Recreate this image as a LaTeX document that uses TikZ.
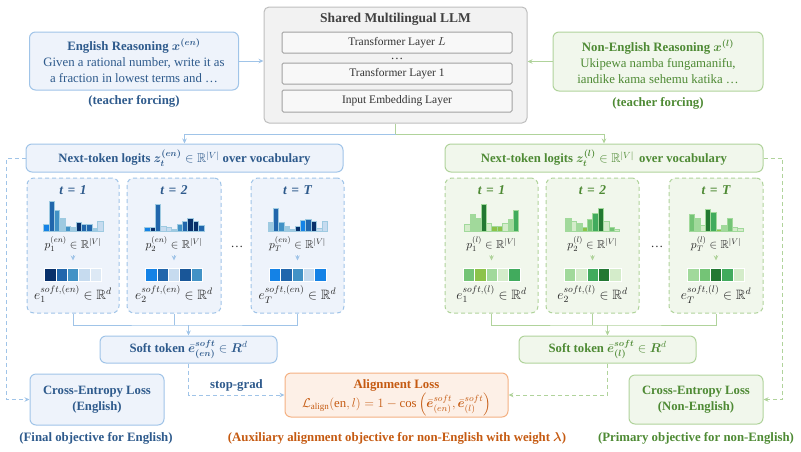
\RequirePackage{fix-cm}
\documentclass[tikz,border=0pt]{standalone}
\usepackage{amsmath}
\usepackage{amssymb}
\usepackage{bm}
\usepackage{fontspec}
\setmainfont{Liberation Serif}
\usetikzlibrary{arrows.meta}

\definecolor{enText}{RGB}{46,90,140}
\definecolor{enFill}{RGB}{238,243,251}
\definecolor{enEdge}{RGB}{160,196,232}
\definecolor{nlText}{RGB}{78,138,52}
\definecolor{nlFill}{RGB}{241,247,236}
\definecolor{nlEdge}{RGB}{176,211,155}
\definecolor{llmFill}{RGB}{242,242,242}
\definecolor{llmEdge}{RGB}{190,190,190}
\definecolor{alText}{RGB}{197,90,17}
\definecolor{alFill}{RGB}{253,240,231}
\definecolor{alEdge}{RGB}{244,177,131}
\definecolor{bNavy}{RGB}{8,48,107}
\definecolor{bDark}{RGB}{33,102,172}
\definecolor{bMed}{RGB}{66,146,198}
\definecolor{bLight}{RGB}{158,202,225}
\definecolor{bPale}{RGB}{198,219,239}
\definecolor{bBright}{RGB}{20,130,230}
\definecolor{gDark}{RGB}{35,120,50}
\definecolor{gMed}{RGB}{65,171,93}
\definecolor{gLight}{RGB}{116,196,118}
\definecolor{gSoft}{RGB}{161,217,155}
\definecolor{gPale}{RGB}{212,236,202}
\definecolor{gLime}{RGB}{140,195,74}

\newcommand{\histo}[3]{\foreach \h/\c [count=\i] in {#3} \filldraw[fill=\c, draw=#2, line width=0.3pt] ({#1+(\i-1)*5.4},231) rectangle ++(5.4,-\h);}
\newcommand{\cells}[2]{\foreach \c [count=\i] in {#2} \filldraw[fill=\c, draw=white, line width=0.5pt] ({#1+(\i-1)*11.4},268) rectangle ++(11.4,13);}

\begin{document}
\begin{tikzpicture}[x=1pt, y=-1pt, line width=1pt,
  base/.style={font=\fontsize{12.8}{16}\selectfont, inner sep=0pt, align=center},
  enBox/.style={base, draw=enEdge, fill=enFill, rounded corners=6pt, text=enText},
  nlBox/.style={base, draw=nlEdge, fill=nlFill, rounded corners=6pt, text=nlText},
  enStep/.style={draw=enEdge, fill=enFill, rounded corners=7pt, dash pattern=on 4pt off 3pt},
  nlStep/.style={draw=nlEdge, fill=nlFill, rounded corners=7pt, dash pattern=on 4pt off 3pt},
  layer/.style={base, font=\fontsize{11.5}{13}\selectfont, draw=llmEdge!85!black, fill=llmFill!50!white, rounded corners=1.5pt, minimum width=230pt, minimum height=21pt, text=black!80},
  tLab/.style={base, font=\fontsize{13.5}{15}\selectfont\bfseries\itshape},
  pLab/.style={base, font=\fontsize{11.5}{13}\selectfont, text=black!85},
  eLab/.style={base, font=\fontsize{13.5}{15}\selectfont, text=black!85},
  enArrow/.style={draw=enEdge, -{Stealth[length=5pt,width=4.5pt]}},
  nlArrow/.style={draw=nlEdge, -{Stealth[length=5pt,width=4.5pt]}},
  enDash/.style={enArrow, dash pattern=on 4pt off 3pt},
  nlDash/.style={nlArrow, dash pattern=on 4pt off 3pt},
  bold/.style={font=\fontsize{12.7}{16}\selectfont\bfseries},
  caption/.style={base, font=\fontsize{12.8}{15}\selectfont\bfseries}]

\useasboundingbox (0,0) rectangle (801,451);

\node (en) [enBox, minimum width=209pt, minimum height=58pt] at (134,61) {{\bfseries English Reasoning $\bm{x^{(en)}}$}\\Given a rational number, write it as\\a fraction in lowest terms and \dots};
\node (enTf) [caption, text=enText] at (134,101) {(teacher forcing)};
\node (nl) [nlBox, minimum width=210pt, minimum height=59pt] at (658,61.5) {{\bfseries Non-English Reasoning $\bm{x^{(l)}}$}\\Ukipewa namba fungamanifu,\\iandike kama sehemu katika \dots};
\node (nlTf) [caption, text=nlText] at (658,103) {(teacher forcing)};

\node (llm) [draw=llmEdge, fill=llmFill, rounded corners=5pt, minimum width=263pt, minimum height=116pt] at (395.5,65) {};
\node (llmT) [base, font=\fontsize{13.5}{16}\selectfont\bfseries, text=black!75] at (395.5,19) {Shared Multilingual LLM};
\node (layL) [layer] at (397,42.5) {Transformer Layer $L$};
\node (layDots) [base, text=black!80] at (397,58.5) {\dots};
\node (lay1) [layer] at (397,73.5) {Transformer Layer 1};
\node (layE) [layer, minimum height=22pt] at (397,101) {Input Embedding Layer};

\draw[enArrow] (en.east) -- (en.east -| llm.west);
\draw[nlArrow] (nl.west) -- (nl.west -| llm.east);

\node (enLog) [enBox, bold, minimum width=317pt, minimum height=28pt] at (184.5,158) {Next-token logits $\bm{z_t^{(en)}}\in\mathbb{R}^{|V|}$ over vocabulary};
\node (nlLog) [nlBox, bold, minimum width=318pt, minimum height=28pt] at (604,158) {Next-token logits $\bm{z_t^{(l)}}\in\mathbb{R}^{|V|}$\, over vocabulary};

\coordinate (split) at (395.5,134);
\draw[nlEdge] (llm.south) -- (split);
\draw[enArrow] (split) -| (enLog.north);
\draw[nlArrow] (split) -| (nlLog.north);

\foreach \k/\cx/\w in {1/73/92, 2/174/94, T/297.5/93} {
  \node (en\k) [enStep, minimum width=\w pt, minimum height=135pt] at (\cx,245.5) {};
  \node (tEn\k) [tLab, text=enText] at (\cx,190) {t\hspace{4.5pt}=\hspace{4.5pt}\k};
  \node (pEn\k) [pLab] at (\cx,244) {$p_{\k}^{(en)}\in\mathbb{R}^{|V|}$};
  \node (cEn\k) [minimum width=57pt, minimum height=13pt, inner sep=0pt] at (\cx,274.5) {};
  \node (eEn\k) [eLab] at (\cx,294) {$e_{\k}^{soft,(en)}\in\mathbb{R}^d$};
  \draw[enArrow, shorten <=3pt, shorten >=7pt] (pEn\k) -- (cEn\k);
}
\foreach \k/\cx/\w in {1/491.5/93, 2/592.5/93, T/716/94} {
  \node (nl\k) [nlStep, minimum width=\w pt, minimum height=135pt] at (\cx,245.5) {};
  \node (tNl\k) [tLab, text=nlText] at (\cx,190) {t\hspace{4.5pt}=\hspace{4.5pt}\k};
  \node (pNl\k) [pLab] at (\cx,244) {$p_{\k}^{(l)}\in\mathbb{R}^{|V|}$};
  \node (cNl\k) [minimum width=57pt, minimum height=13pt, inner sep=0pt] at (\cx,274.5) {};
  \node (eNl\k) [eLab] at (\cx,294) {$e_{\k}^{soft,(l)}\in\mathbb{R}^d$};
  \draw[nlArrow, shorten <=3pt, shorten >=7pt] (pNl\k) -- (cNl\k);
}
\node (enDots) [base, text=black!80] at (237,247) {\dots};
\node (nlDots) [base, text=black!80] at (657,247) {\dots};

\histo{43.3}{bLight}{7/bBright, 30/bDark, 21/bMed, 13/bLight, 5/bMed, 4/bLight, 9/bNavy, 7/bDark, 7/bDark, 3/bLight, 10/bPale}
\histo{144.3}{bLight}{4/bBright, 4/bNavy, 27/bDark, 5/bPale, 4/bPale, 2/bLight, 7/bMed, 10/bDark, 13/bNavy, 10/bNavy, 6/bDark}
\histo{267.8}{bLight}{9/bLight, 23/bDark, 9/bMed, 5/bLight, 2/bLight, 5/bNavy, 11/bBright, 12/bDark, 10/bNavy, 3/bPale, 10/bPale}
\histo{464.5}{gSoft}{7/gPale, 17/gSoft, 13/gSoft, 27/gDark, 8/gPale, 5/gLime, 5/gLime, 8/gPale, 12/gSoft, 21/gMed}
\histo{565.5}{gSoft}{13/gSoft, 10/gPale, 8/gSoft, 4/gLime, 12/gLight, 18/gMed, 23/gDark, 10/gPale, 4/gLight, 2/gPale}
\histo{689}{gSoft}{17/gLight, 13/gSoft, 6/gPale, 22/gDark, 19/gMed, 2/gLime, 6/gSoft, 13/gLight, 4/gPale, 3/gPale}

\cells{44.5}{bNavy, bDark, bMed, bPale, bPale!60!white}
\cells{145.5}{bBright, bDark, bPale, bDark!70!bNavy, bMed}
\cells{269}{bBright, bDark, bMed, bPale, bBright}
\cells{463}{gLight, gLime, gSoft, gPale, gMed}
\cells{564}{gSoft, gPale, gMed, gDark, gPale}
\cells{687.5}{gSoft, gLight, gDark, gMed, gPale}

\node (enSoft) [enBox, bold, minimum width=177pt, minimum height=27pt] at (188.5,349.5) {Soft token $\bar{\bm{e}}^{\bm{soft}}_{\bm{(en)}}\in\bm{R}^d$};
\node (nlSoft) [nlBox, bold, minimum width=177pt, minimum height=27pt] at (607.5,349.5) {Soft token $\bar{\bm{e}}^{\bm{soft}}_{\bm{(l)}}\in\bm{R}^d$};

\coordinate (enJoin) at (188.5,325);
\draw[enEdge] (en1.south) |- (enJoin) -| (enT.south);
\draw[enEdge] (en2.south) -- (en2.south |- enJoin);
\draw[enArrow] (enJoin) -- (enSoft.north);
\coordinate (nlJoin) at (607.5,325);
\draw[nlEdge] (nl1.south) |- (nlJoin) -| (nlT.south);
\draw[nlEdge] (nl2.south) -- (nl2.south |- nlJoin);
\draw[nlArrow] (nlJoin) -- (nlSoft.north);

\node (enCE) [enBox, bold, minimum width=134pt, minimum height=51pt] at (97,399.5) {Cross-Entropy Loss\\(English)};
\node (nlCE) [nlBox, bold, minimum width=134pt, minimum height=49pt] at (696,399.5) {Cross-Entropy Loss\\(Non-English)};
\node (align) [draw=alEdge, fill=alFill, rounded corners=6pt, minimum width=223pt, minimum height=44pt] at (396.5,395) {};
\node (alTxt) [base, text=alText, font=\fontsize{12.8}{19.5}\selectfont] at (396.5,397.5) {\textbf{Alignment Loss}\\$\mathcal{L}_{\mathrm{align}}(\mathrm{en},l)=1-\cos\left(\bar{\bm{e}}^{soft}_{(en)},\bar{\bm{e}}^{soft}_{(l)}\right)$};

\node (enCap) [caption, text=enText] at (96,438) {(Final objective for English)};
\node (alCap) [caption, text=alText] at (397,438) {(Auxiliary alignment objective for non-English with weight $\bm{\lambda}$)};
\node (nlCap) [caption, text=nlText] at (696,438) {(Primary objective for non-English)};

\draw[enDash] (enLog.west) -- ++(-19,0) |- (enCE.west);
\draw[nlDash] (nlLog.east) -- ++(19,0) |- (nlCE.east);
\draw[enDash] (enSoft.south) |- (align.west) node[caption, text=enText, pos=0.75, above=3pt] {stop-grad};
\draw[nlDash] (nlSoft.south) |- (align.east);
\end{tikzpicture}
\end{document}
